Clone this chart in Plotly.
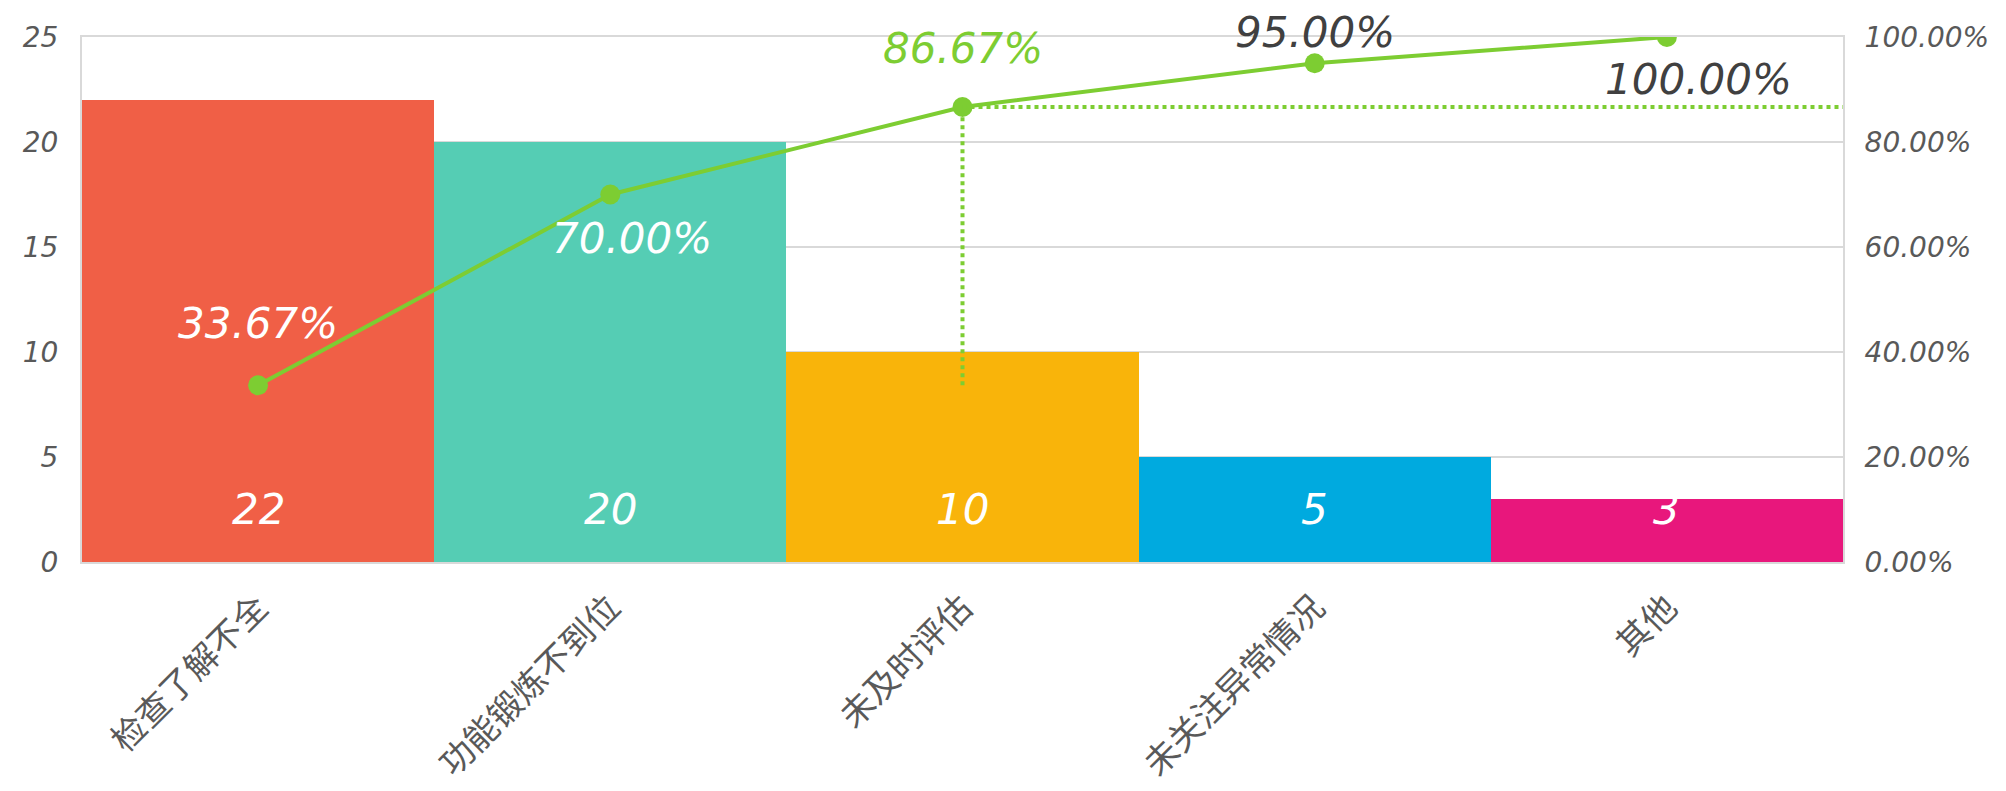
import plotly.graph_objects as go

categories = ["检查了解不全", "功能锻炼不到位", "未及时评估", "未关注异常情况", "其他"]
counts = [22, 20, 10, 5, 3]
cum_pct = [0.3367, 0.70, 0.8667, 0.95, 1.00]
cum_labels = ["33.67%", "70.00%", "86.67%", "95.00%", "100.00%"]
bar_colors = ["#F05F46", "#55CDB4", "#F9B40A", "#00AADF", "#E8177C"]
left_ticks = [0, 5, 10, 15, 20, 25]
right_ticks = [0, 0.2, 0.4, 0.6, 0.8, 1.0]
right_tick_labels = ["0.00%", "20.00%", "40.00%", "60.00%", "80.00%", "100.00%"]

GREEN = "#7DCD32"
TICK_COLOR = "#595959"
GRID = "#D9D9D9"

fig = go.Figure()

fig.add_trace(go.Bar(
    x=categories, y=counts, marker=dict(color=bar_colors, line=dict(width=0)),
    yaxis="y", showlegend=False, hoverinfo="x+y",
))

# dotted guide lines at the 3rd cumulative point
fig.add_trace(go.Scatter(
    x=[categories[2], categories[2]], y=[cum_pct[0], cum_pct[2]], yaxis="y2",
    mode="lines", line=dict(color=GREEN, width=4, dash="dot"), showlegend=False, hoverinfo="skip",
))
fig.add_shape(type="line", xref="x", yref="y2", x0=2, x1=4.5, y0=cum_pct[2], y1=cum_pct[2],
              line=dict(color=GREEN, width=4, dash="dot"))

fig.add_trace(go.Scatter(
    x=categories, y=cum_pct, yaxis="y2", mode="lines+markers",
    line=dict(color=GREEN, width=4), marker=dict(color=GREEN, size=20),
    showlegend=False,
))

label_font = "DejaVu Sans"
# cumulative labels
lab_colors = ["white", "white", GREEN, "#404040", "#404040"]
lab_shift_y = [62, -44, 58, 31, -42]
lab_shift_x = [0, 22, 0, 0, 32]
for i in range(len(categories)):
    fig.add_annotation(x=categories[i], y=cum_pct[i], xref="x", yref="y2",
                       text=cum_labels[i], showarrow=False,
                       xshift=lab_shift_x[i], yshift=lab_shift_y[i],
                       font=dict(family=label_font, size=42, color=lab_colors[i], style="italic"))

# count labels
for i in range(len(categories)):
    fig.add_annotation(x=categories[i], y=0, xref="x", yref="y",
                       text=str(counts[i]), showarrow=False, yshift=53,
                       font=dict(family=label_font, size=42, color="white", style="italic"))

# page body has an 8px default margin, so shift the plot area up/left by 8px
fig.update_layout(
    width=2006, height=791,
    margin=dict(l=74, r=171, t=29, b=237, autoexpand=False),
    plot_bgcolor="white", paper_bgcolor="white",
    bargap=0,
    xaxis=dict(
        range=[-0.5, 4.5], tickangle=-45, showgrid=False, ticks="", automargin=False,
        tickfont=dict(family="Noto Sans CJK SC", size=34, color=TICK_COLOR),
        showline=True, linecolor=GRID, linewidth=2, mirror=True,
        ticklabelstandoff=10,
    ),
    yaxis=dict(
        range=[0, 25], tickvals=left_ticks, ticktext=[str(v) for v in left_ticks],
        showgrid=True, gridcolor=GRID, gridwidth=2, zeroline=False, automargin=False,
        showline=True, linecolor=GRID, linewidth=2,
        tickfont=dict(family=label_font, size=28, color=TICK_COLOR, style="italic"),
        ticklabelstandoff=16,
    ),
    yaxis2=dict(
        range=[0, 1], overlaying="y", side="right", tickvals=right_ticks, ticktext=right_tick_labels,
        showgrid=False, zeroline=False, showline=True, linecolor=GRID, linewidth=2, automargin=False,
        tickfont=dict(family=label_font, size=28, color=TICK_COLOR, style="italic"),
        ticklabelstandoff=14,
    ),
)

fig.write_html("out.html")
